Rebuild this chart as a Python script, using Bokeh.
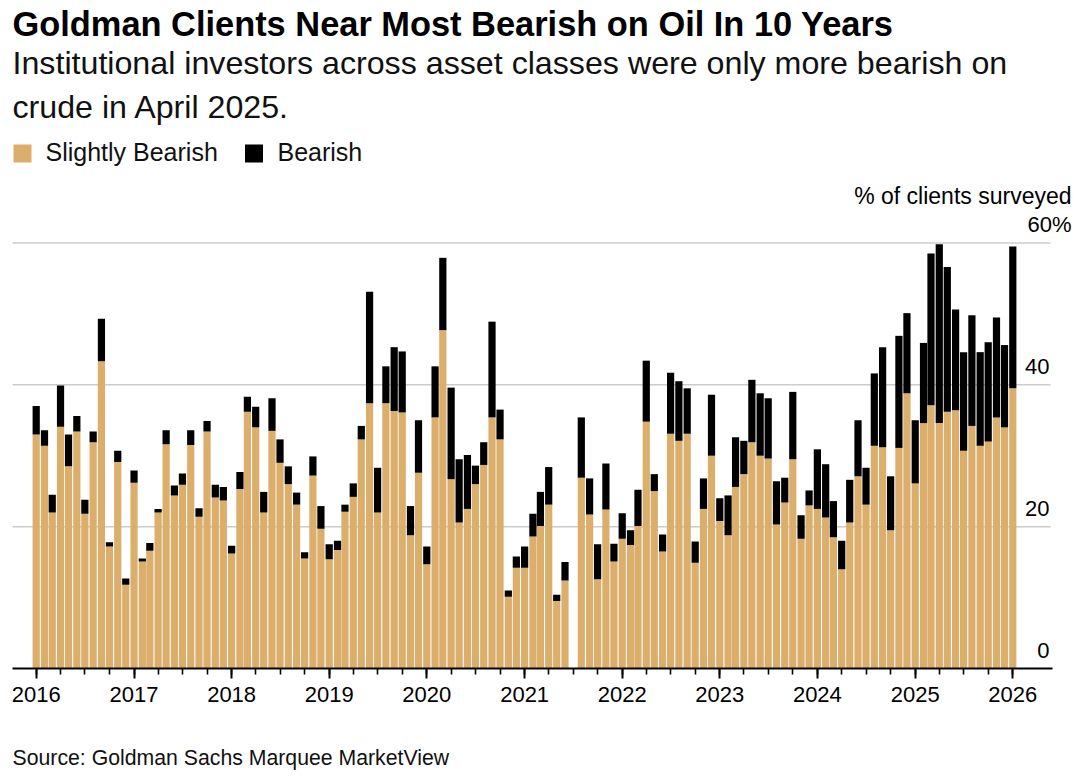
import numpy as np
import pandas as pd
from bokeh.plotting import figure
from bokeh.layouts import column
from bokeh.models import (ColumnDataSource, FixedTicker, DatetimeTickFormatter, Range1d)
from bokeh.core.properties import value
from bokeh.embed import file_html
from bokeh.resources import INLINE

nan = float("nan")

# ---------------- data ----------------
months = pd.date_range("2016-01-01", "2026-01-01", freq="MS")   # monthly survey

slightly_bearish = [
    33.0, 31.4, 22.0, 34.1, 28.5, 33.4, 21.8, 31.9, 43.3, 17.2, 29.1, 11.8,   # 2016
    26.2, 15.1, 16.6, 22.0, 31.6, 24.4, 25.9, 31.5, 21.4, 33.4, 24.1, 23.7,   # 2017
    16.2, 25.3, 36.2, 34.0, 22.0, 33.5, 29.0, 26.0, 23.1, 15.5, 27.2, 19.7,   # 2018
    15.4, 16.7, 22.1, 24.2, 32.3, 37.4, 22.0, 37.4, 36.3, 36.1, 18.8, 27.6,   # 2019
    14.7, 35.4, 47.7, 26.7, 20.6, 22.5, 26.0, 28.7, 35.4, 32.3, 10.1, 14.2,   # 2020
    14.2, 18.6, 20.1, 23.1, 9.5, 12.4, nan, 26.9, 21.7, 12.6, 22.4, 15.1,     # 2021
    18.3, 17.4, 20.1, 34.8, 25.0, 16.5, 33.1, 32.1, 33.1, 14.9, 22.5, 30.0,   # 2022
    20.8, 18.8, 25.6, 27.4, 31.9, 30.0, 29.6, 20.3, 23.4, 29.5, 18.3, 23.0,   # 2023
    22.5, 21.3, 18.5, 14.0, 20.6, 27.1, 23.1, 31.4, 31.2, 19.5, 31.1, 38.8,   # 2024
    26.1, 34.6, 37.1, 34.6, 36.2, 36.4, 30.7, 34.2, 31.4, 32.0, 35.4, 34.0,   # 2025
    39.5,                                                                     # 2026
]
bearish = [
    4.0, 2.2, 2.5, 5.8, 4.5, 2.2, 2.0, 1.5, 6.0, 0.6, 1.6, 0.9,
    1.7, 0.4, 1.1, 0.5, 2.0, 1.4, 1.6, 2.1, 1.2, 1.5, 1.8, 1.9,
    1.1, 2.4, 2.1, 2.9, 2.9, 4.6, 3.3, 2.5, 1.7, 0.9, 2.7, 3.2,
    2.1, 1.3, 1.0, 1.9, 1.9, 15.7, 6.3, 5.2, 9.0, 8.6, 4.1, 7.4,
    2.5, 7.2, 10.2, 12.9, 8.9, 7.6, 2.6, 3.2, 13.5, 4.2, 0.9, 1.6,
    3.0, 3.2, 4.8, 5.3, 0.9, 2.6, nan, 8.5, 5.1, 4.9, 6.5, 2.5,
    3.6, 2.1, 5.1, 8.6, 2.4, 2.4, 8.6, 8.4, 6.4, 3.0, 4.3, 8.6,
    3.2, 5.6, 7.0, 4.7, 8.8, 8.8, 8.5, 6.1, 3.5, 9.5, 3.3, 2.1,
    8.4, 7.5, 5.1, 4.0, 6.0, 7.9, 5.2, 10.2, 14.1, 7.6, 15.8, 11.3,
    8.9, 11.3, 21.4, 25.2, 20.4, 14.2, 13.9, 15.6, 13.2, 14.0, 14.1, 11.6,
    20.0,
]
series_names = ["Slightly Bearish", "Bearish"]
year_ticks = pd.date_range("2016-01-01", "2026-01-01", freq="YS")
quarter_ticks = pd.date_range("2016-01-01", "2026-01-01", freq="QS")
y_ticks = [0, 20, 40, 60]
y_tick_labels = ["0", "20", "40", "60%"]

title_text = "Goldman Clients Near Most Bearish on Oil In 10 Years"
subtitle_lines = ["Institutional investors across asset classes were only more bearish on",
                  "crude in April 2025."]
unit_text = "% of clients surveyed"
source_text = "Source: Goldman Sachs Marquee MarketView"

# ---------------- styling / geometry ----------------
TAN = "#DCAE6C"
BLACK = "#000000"
GRID = "#cccccc"
FONT = "Liberation Sans"

W, H1, H2 = 1080, 746, 30
PAGE = 0                       # effective page offset of the figure
FRAME_BOTTOM = 668             # page y of value 0
PX_PER_UNIT = 7.093            # vertical scale

def ms(t):
    return pd.Timestamp(t).value / 1e6

T0, T1 = ms("2016-01-01"), ms("2026-01-01")
P0, P1 = 35.7, 1012.3          # page x of the 2016 and 2026 ticks
MS_PER_PX = (T1 - T0) / (P1 - P0)

def X(px):
    return T0 + (px - P0) * MS_PER_PX

def Y(py):
    return (FRAME_BOTTOM - py) / PX_PER_UNIT

src = ColumnDataSource(dict(month=list(months),
                            slightly=slightly_bearish,
                            bearish=bearish))

p = figure(width=W, height=H1, x_axis_type="datetime", y_axis_location=None,
           x_range=Range1d(X(PAGE), X(PAGE + W)), y_range=Range1d(0, Y(PAGE)),
           output_backend="svg", toolbar_location=None,
           min_border_left=0, min_border_right=0, min_border_top=0,
           min_border_bottom=H1 - (FRAME_BOTTOM - PAGE))
p.outline_line_color = None
p.xgrid.visible = False
p.ygrid.visible = False
p.background_fill_color = "white"
p.border_fill_color = "white"

# horizontal grid lines (behind bars)
grid_vals = [v for v in y_ticks if v != 0]
p.segment(x0=[X(12)] * len(grid_vals), x1=[X(1050)] * len(grid_vals),
          y0=grid_vals, y1=grid_vals, line_color=GRID, line_width=1.5)

# stacked bars
bar_w = 27 * 86400000
p.vbar_stack(["slightly", "bearish"], x="month", width=bar_w, source=src,
             fill_color=[TAN, BLACK], line_color=None)

# x axis
ax = p.xaxis[0]
ax.ticker = FixedTicker(ticks=[ms(t) for t in year_ticks],
                        minor_ticks=[ms(t) for t in quarter_ticks])
ax.formatter = DatetimeTickFormatter(years="%Y", months="%Y", days="%Y",
                                     hours="%Y", hourmin="%Y", minutes="%Y")
ax.bounds = (X(12), X(1052))
ax.axis_line_color = BLACK
ax.axis_line_width = 2
ax.major_tick_in = 0
ax.major_tick_out = 10
ax.minor_tick_in = 0
ax.minor_tick_out = 6
ax.major_tick_line_color = BLACK
ax.major_tick_line_width = 2
ax.minor_tick_line_color = BLACK
ax.minor_tick_line_width = 1.6
ax.major_label_text_font = FONT
ax.major_label_text_font_size = "22px"
ax.major_label_text_color = BLACK
ax.major_label_standoff = 8

# y tick labels (above grid lines, right side)
num_labels = [l for l in y_tick_labels if not l.endswith("%")]
num_vals = [v for v, l in zip(y_ticks, y_tick_labels) if not l.endswith("%")]
pct_labels = [l for l in y_tick_labels if l.endswith("%")]
pct_vals = [v for v, l in zip(y_ticks, y_tick_labels) if l.endswith("%")]
off = 18.5 / PX_PER_UNIT
p.text(x=[X(1049)] * len(num_vals), y=[v + off for v in num_vals], text=num_labels,
       text_align="right", text_baseline="middle", text_font=value(FONT),
       text_font_size="22px", text_color=BLACK)
p.text(x=[X(1071)] * len(pct_vals), y=[v + off for v in pct_vals], text=pct_labels,
       text_align="right", text_baseline="middle", text_font=value(FONT),
       text_font_size="22px", text_color=BLACK)
p.text(x=[X(1071)], y=[Y(195.5)], text=[unit_text], text_align="right",
       text_baseline="middle", text_font=value(FONT), text_font_size="23px",
       text_color=BLACK)

# title and subtitle
p.text(x=[X(12)], y=[Y(23.2)], text=[title_text], text_align="left",
       text_baseline="middle", text_font=value(FONT), text_font_style="bold",
       text_font_size="34.4px", text_color=BLACK)
p.text(x=[X(12)] * 2, y=[Y(62.5), Y(106)], text=subtitle_lines, text_align="left",
       text_baseline="middle", text_font=value(FONT), text_font_size="32.2px",
       text_color="#111111")

# legend
p.scatter(x=[X(22), X(253.5)], y=[Y(153), Y(153)], marker="square", size=18,
          fill_color=[TAN, BLACK], line_color=None)
p.text(x=[X(45), X(277)], y=[Y(151)] * 2, text=series_names, text_align="left",
       text_baseline="middle", text_font=value(FONT), text_font_size="25px",
       text_color="#111111")

# source (separate strip below the axis)
q = figure(width=W, height=H2, x_range=Range1d(0, W), y_range=Range1d(0, H2),
           x_axis_location=None, y_axis_location=None, output_backend="svg",
           toolbar_location=None, min_border=0)
q.outline_line_color = None
q.xgrid.visible = False
q.ygrid.visible = False
q.text(x=[12], y=[H2 - (757.5 - H1)], text=[source_text], text_align="left",
       text_baseline="middle", text_font=value(FONT), text_font_size="21.25px",
       text_color="#111111")

layout = column(p, q, spacing=0)
open("out.html", "w").write(file_html(layout, INLINE))
